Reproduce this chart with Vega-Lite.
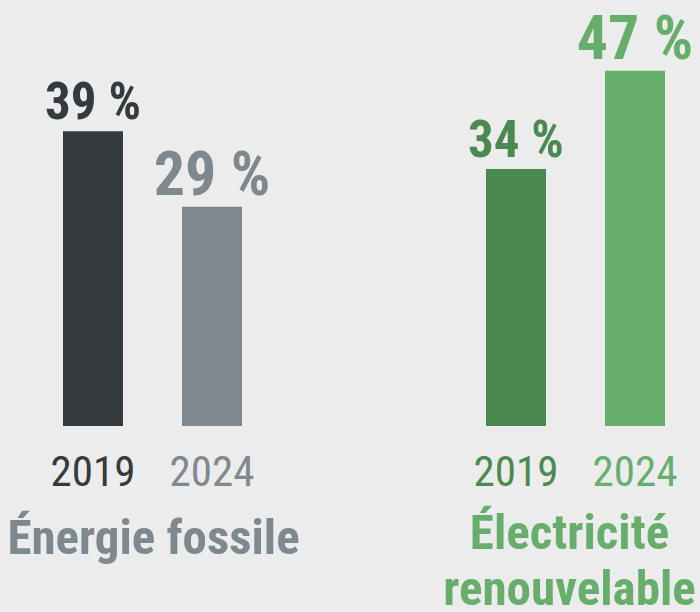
{
  "$schema": "https://vega.github.io/schema/vega-lite/v6.json",
  "width": 602,
  "height": 378,
  "autosize": {"type": "none"},
  "padding": {"left": 63, "right": 35, "top": 48, "bottom": 186},
  "background": "#ececec",
  "config": {"view": {"stroke": null}, "font": "Liberation Sans Narrow, Arial Narrow, Roboto Condensed, Liberation Sans, sans-serif"},
  "datasets": {
    "barres": [
      {"groupe": "Énergie fossile", "annee": "2019", "serie": "Fossile 2019", "part": 39, "etiquette": "39 %"},
      {"groupe": "Énergie fossile", "annee": "2024", "serie": "Fossile 2024", "part": 29, "etiquette": "29 %"},
      {"groupe": "Électricité renouvelable", "annee": "2019", "serie": "Renouvelable 2019", "part": 34, "etiquette": "34 %"},
      {"groupe": "Électricité renouvelable", "annee": "2024", "serie": "Renouvelable 2024", "part": 47, "etiquette": "47 %"}
    ],
    "titres": [
      {"groupe": "Énergie fossile", "serie": "Fossile 2024", "titre": "Énergie fossile"},
      {"groupe": "Électricité renouvelable", "serie": "Renouvelable 2024", "titre": "Électricité\nrenouvelable"}
    ]
  },
  "encoding": {
    "x": {
      "field": "groupe",
      "type": "nominal",
      "sort": null,
      "scale": {"domain": ["Énergie fossile", "Électricité renouvelable"], "paddingInner": 0.5768, "paddingOuter": 0},
      "axis": null
    }
  },
  "layer": [
    {
      "data": {"name": "barres"},
      "mark": {"type": "bar"},
      "encoding": {
        "xOffset": {"field": "annee", "type": "nominal", "scale": {"paddingInner": 0.4958, "paddingOuter": 0}},
        "y": {"field": "part", "type": "quantitative", "scale": {"domain": [0, 50], "nice": false}, "axis": null},
        "color": {
          "field": "serie",
          "type": "nominal",
          "scale": {
            "domain": ["Fossile 2019", "Fossile 2024", "Renouvelable 2019", "Renouvelable 2024"],
            "range": ["#343a3d", "#7e898f", "#4a894f", "#67ae6c"]
          },
          "legend": null
        }
      }
    },
    {
      "data": {"name": "barres"},
      "mark": {"type": "text", "baseline": "alphabetic", "align": "center", "dy": -12, "fontWeight": "bold"},
      "encoding": {
        "xOffset": {"field": "annee", "type": "nominal", "scale": {"paddingInner": 0.4958, "paddingOuter": 0}},
        "y": {"field": "part", "type": "quantitative"},
        "text": {"field": "etiquette"},
        "size": {"field": "annee", "type": "nominal", "scale": {"domain": ["2019", "2024"], "range": [51, 62]}, "legend": null},
        "color": {"field": "serie", "type": "nominal", "legend": null}
      }
    },
    {
      "data": {"name": "barres"},
      "mark": {"type": "text", "baseline": "alphabetic", "align": "center", "dy": 60, "fontSize": 43},
      "encoding": {
        "xOffset": {"field": "annee", "type": "nominal", "scale": {"paddingInner": 0.4958, "paddingOuter": 0}},
        "y": {"datum": 0, "type": "quantitative"},
        "text": {"field": "annee"},
        "color": {"field": "serie", "type": "nominal", "legend": null}
      }
    },
    {
      "data": {"name": "titres"},
      "transform": [{"filter": "datum.groupe === 'Énergie fossile'"}],
      "mark": {"type": "text", "baseline": "alphabetic", "align": "center", "dy": 128, "dx": 1, "fontSize": 49, "fontWeight": "bold", "lineBreak": "\n", "lineHeight": 56},
      "encoding": {
        "y": {"datum": 0, "type": "quantitative"},
        "text": {"field": "titre"},
        "color": {"field": "serie", "type": "nominal", "legend": null}
      }
    },
    {
      "data": {"name": "titres"},
      "transform": [{"filter": "datum.groupe !== 'Énergie fossile'"}],
      "mark": {"type": "text", "baseline": "alphabetic", "align": "center", "dy": 123, "dx": -6, "fontSize": 49, "fontWeight": "bold", "lineBreak": "\n", "lineHeight": 56},
      "encoding": {
        "y": {"datum": 0, "type": "quantitative"},
        "text": {"field": "titre"},
        "color": {"field": "serie", "type": "nominal", "legend": null}
      }
    }
  ]
}
